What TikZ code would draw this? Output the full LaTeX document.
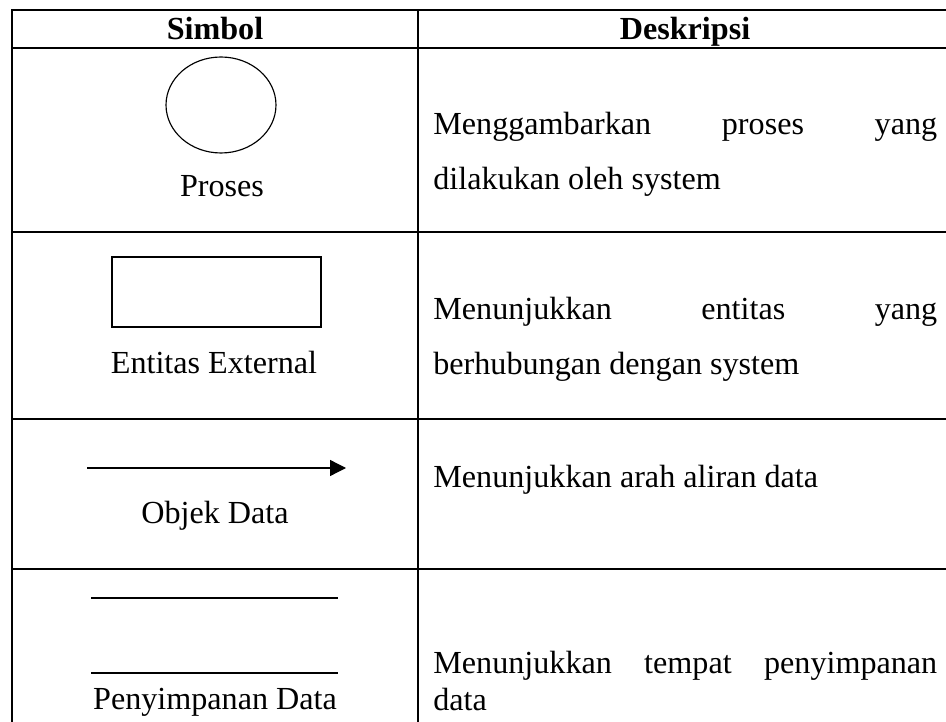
\documentclass[tikz,border=0pt]{standalone}
\usepackage{fontspec}
\setmainfont{Liberation Serif}
\usetikzlibrary{positioning,arrows.meta,shapes.geometric}
\definecolor{ink}{HTML}{000000}
\tikzset{
  hdr/.style   ={font=\fontsize{18.3}{21}\selectfont\bfseries, text=ink, inner sep=0pt, anchor=base},
  lbl/.style   ={font=\fontsize{18.3}{21}\selectfont, text=ink, inner sep=0pt, anchor=base},
  desc/.style  ={font=\fontsize{18.3}{21}\selectfont, text=ink, inner sep=0pt, anchor=base west},
  grid/.style  ={draw=ink, line width=0.75pt, line cap=rect},
  shp/.style   ={draw=ink, line width=0.65pt},
  flow/.style  ={-{Triangle[length=3.2mm, width=3.2mm]}, line width=0.75pt, draw=ink},
}
\newcommand{\jline}[1]{\makebox[10.08cm][s]{#1}}

\begin{document}
\begin{tikzpicture}[x=0.02cm, y=-0.02cm]
  \useasboundingbox (0,0) rectangle (946,722);

  % ---- table rules ----
  \draw[grid] (946,10) -- (12,10) -- (12,722);
  \draw[grid] (418,10) -- (418,722);
  \foreach \yy in {48,232,419,569}
    \draw[grid] (12,\yy) -- (946,\yy);

  % ---- header ----
  \node[hdr] (hsim) at (215,40) {Simbol};
  \node[hdr] (hdes) at (685,40) {Deskripsi};

  % ---- proses ----
  \node[shp, ellipse, minimum width=2.2cm, minimum height=1.92cm, inner sep=0pt] (proc) at (221,105) {};
  \node[lbl] (lproc) at (222,197) {Proses};
  \node[desc] (dproc1) at (433,135) {\jline{Menggambarkan proses yang}};
  \node[desc] (dproc2) at (433,190) {dilakukan oleh system};

  % ---- entitas external ----
  \node[shp, rectangle, minimum width=4.18cm, minimum height=1.4cm, inner sep=0pt] (ent) at (216.5,292) {};
  \node[lbl] (lent) at (214,374) {Entitas External};
  \node[desc] (dent1) at (433,320) {\jline{Menunjukkan entitas yang}};
  \node[desc] (dent2) at (433,375) {berhubungan dengan system};

  % ---- objek data ----
  \coordinate (fa) at (87,468);
  \coordinate (fb) at (346,468);
  \draw[flow] (fa) -- (fb);
  \node[lbl] (lflow) at (215,523) {Objek Data};
  \node[desc] (dflow) at (433,487) {Menunjukkan arah aliran data};

  % ---- penyimpanan data ----
  \coordinate (sa) at (92,598);
  \coordinate (sb) at (337,598);
  \coordinate (sc) at (92,673);
  \coordinate (sd) at (337,673);
  \draw[grid] (sa) -- (sb);
  \draw[grid] (sc) -- (sd);
  \node[lbl] (lstore) at (215,709) {Penyimpanan Data};
  \node[desc] (dstore1) at (433,673) {\jline{Menunjukkan tempat penyimpanan}};
  \node[desc] (dstore2) at (433,710) {data};

\end{tikzpicture}
\end{document}
